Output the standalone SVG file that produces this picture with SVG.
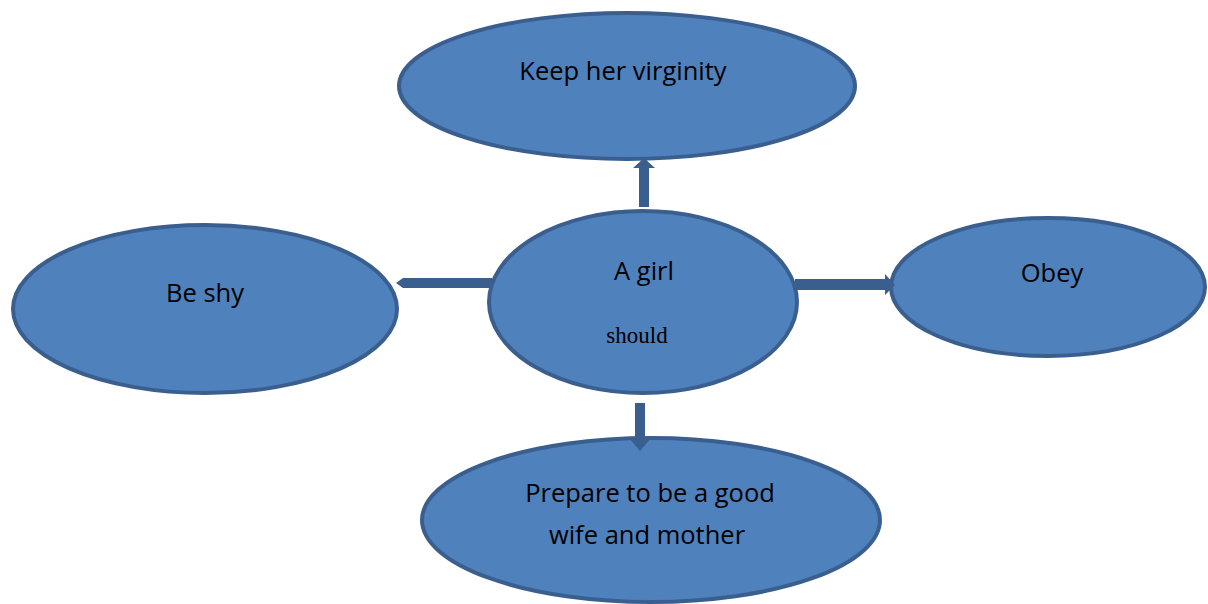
<svg xmlns="http://www.w3.org/2000/svg" width="1208" height="604" viewBox="0 0 1208 604">
<style>
.n{fill:#4f81bd;stroke:#3a5f8e;stroke-width:4}
.t{font-family:"Open Sans","Liberation Sans",sans-serif;font-size:25.5px;fill:#000;text-anchor:middle}
.s{font-family:"Liberation Serif",serif;font-size:23px;fill:#000;text-anchor:middle}
.c{fill:#3a5f8e}
</style>
<rect width="1208" height="604" fill="#fff"/>
<g id="top"><ellipse class="n" cx="627" cy="86" rx="228" ry="73"/><text class="t" x="623" y="80">Keep her virginity</text></g>
<g id="center"><ellipse class="n" cx="643" cy="302" rx="154" ry="91"/><text class="t" x="644" y="280">A girl</text><text class="s" x="637" y="343">should</text></g>
<g id="left"><ellipse class="n" cx="205" cy="309" rx="192" ry="84"/><text class="t" x="205" y="302">Be shy</text></g>
<g id="right"><ellipse class="n" cx="1048" cy="287" rx="157" ry="69"/><text class="t" x="1052" y="282">Obey</text></g>
<g id="bottom"><ellipse class="n" cx="651" cy="520" rx="229" ry="82"/><text class="t" x="650" y="502">Prepare to be a good</text><text class="t" x="647" y="544">wife and mother</text></g>
<g id="connectors">
<path class="c" d="M639 207 V168 H633 L644 158 L655 168 H649 V207 Z"/>
<path class="c" d="M492 278 V288 H403 L396 283 L403 278 Z"/>
<path class="c" d="M795 279 V290 H885 V295 L895 285 L885 274 V279 Z"/>
<path class="c" d="M635 403 H645 V438 H651 L640 451 L629 438 H635 Z"/>
</g>
</svg>
